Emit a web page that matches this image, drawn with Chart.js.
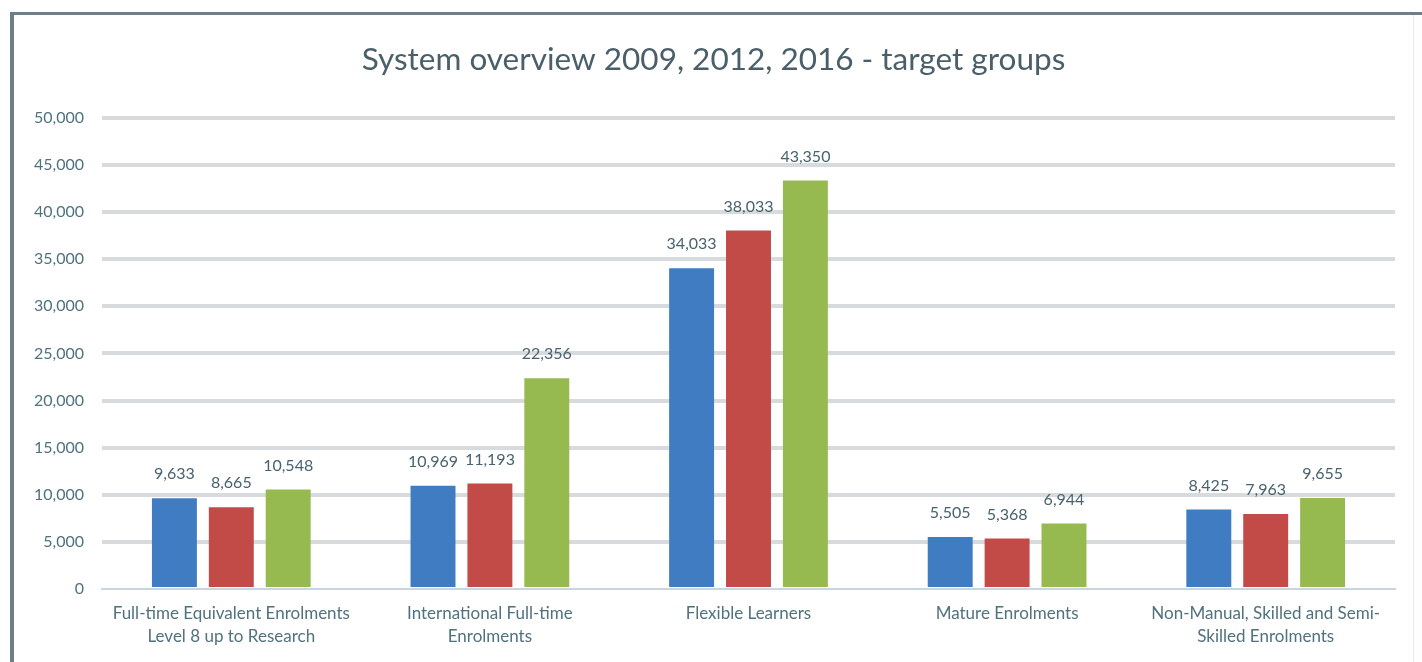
<!DOCTYPE html>
<html>
<head>
<meta charset="utf-8">
<title>System overview - target groups</title>
<script src="https://cdn.jsdelivr.net/npm/chart.js@4.4.1/dist/chart.umd.min.js"></script>
<style>
  html, body { margin: 0; padding: 0; background: #fff; }
  body { width: 1422px; height: 662px; position: relative; overflow: hidden; }
  .frame-top { position: absolute; left: 10px; top: 12px; width: 1412px; height: 3px; background: #6d7f88; }
  .frame-left { position: absolute; left: 10px; top: 12px; width: 4px; height: 660px; background: #6d7f88; }
  .frame-right { position: absolute; left: 1413px; top: 15px; width: 1px; height: 660px; background: #f1e9e7; }
  #wrap { position: absolute; left: 0; top: 0; width: 1422px; height: 662px; }
</style>
</head>
<body>
<div class="frame-top"></div>
<div class="frame-left"></div>
<div class="frame-right"></div>
<div id="wrap"><canvas id="overviewChart"></canvas></div>

<script>
    // Target groups (each label split into two lines)
    const categories = [
    ['Full-time Equivalent Enrolments', 'Level 8 up to Research'],
    ['International Full-time', 'Enrolments'],
    ['Flexible Learners'],
    ['Mature Enrolments'],
    ['Non-Manual, Skilled and Semi-', 'Skilled Enrolments']
    ];

    // Values per year
    const years = ['2009', '2012', '2016'];
    const values2009 = [9633, 10969, 34033, 5505, 8425];
    const values2012 = [8665, 11193, 38033, 5368, 7963];
    const values2016 = [10548, 22356, 43350, 6944, 9655];

    // Y axis range
    const yMax = 50000;
    const yStep = 5000;

    const barColors = ['#407cc2', '#c24a47', '#97ba50'];
    const fontFamily = 'Lato, "Open Sans", sans-serif';
    const textColor = '#50727f';

    // Draws the value above every bar
    const valueLabels = {
    id: 'valueLabels',
    afterDatasetsDraw(chart) {
    const ctx = chart.ctx;
    ctx.save();
    ctx.font = '16px ' + fontFamily;
    ctx.fillStyle = '#48626f';
    ctx.textAlign = 'center';
    ctx.textBaseline = 'middle';
    chart.data.datasets.forEach((ds, i) => {
    const meta = chart.getDatasetMeta(i);
    meta.data.forEach((bar, j) => {
    ctx.fillText(ds.data[j].toLocaleString('en-US'), bar.x, bar.y - 24);
});
});
    ctx.restore();
}
};

    new Chart(document.getElementById('overviewChart'), {
    type: 'bar',
    data: {
    labels: categories,
    datasets: [values2009, values2012, values2016].map((vals, i) => ({
    label: years[i],
    data: vals,
    backgroundColor: barColors[i],
    borderWidth: 0,
    categoryPercentage: 0.66,
    barPercentage: 0.79
}))
},
    options: {
    responsive: true,
    maintainAspectRatio: false,
    animation: false,
    layout: {
    padding: { top: 30, left: 32, right: 27, bottom: 1 }
},
    plugins: {
    legend: { display: false },
    tooltip: { enabled: false },
    title: {
    display: true,
    text: 'System overview 2009, 2012, 2016 - target groups',
    color: '#4a5f69',
    font: { family: fontFamily, size: 31.5, weight: 'normal' },
    padding: { top: 11, bottom: 39 }
}
},
    scales: {
    x: {
    grid: { display: false, drawTicks: false },
    border: { display: true, color: '#c6d7e1', width: 2 },
    ticks: {
    color: textColor,
    padding: 13,
    maxRotation: 0,
    autoSkip: false,
    font: { family: fontFamily, size: 17, lineHeight: 23 / 17 }
}
},
    y: {
    min: 0,
    max: yMax,
    afterFit(scale) { scale.width = 70; },
    border: { display: false },
    grid: {
    drawTicks: false,
    color: ctx => ctx.tick && ctx.tick.value === 0 ? 'rgba(0,0,0,0)' : '#d7dbde',
    lineWidth: 4
},
    ticks: {
    stepSize: yStep,
    padding: 18,
    color: textColor,
    font: { family: fontFamily, size: 16 },
    callback: v => v.toLocaleString('en-US')
}
}
}
},
    plugins: [valueLabels]
});
</script>
</body>
</html>
